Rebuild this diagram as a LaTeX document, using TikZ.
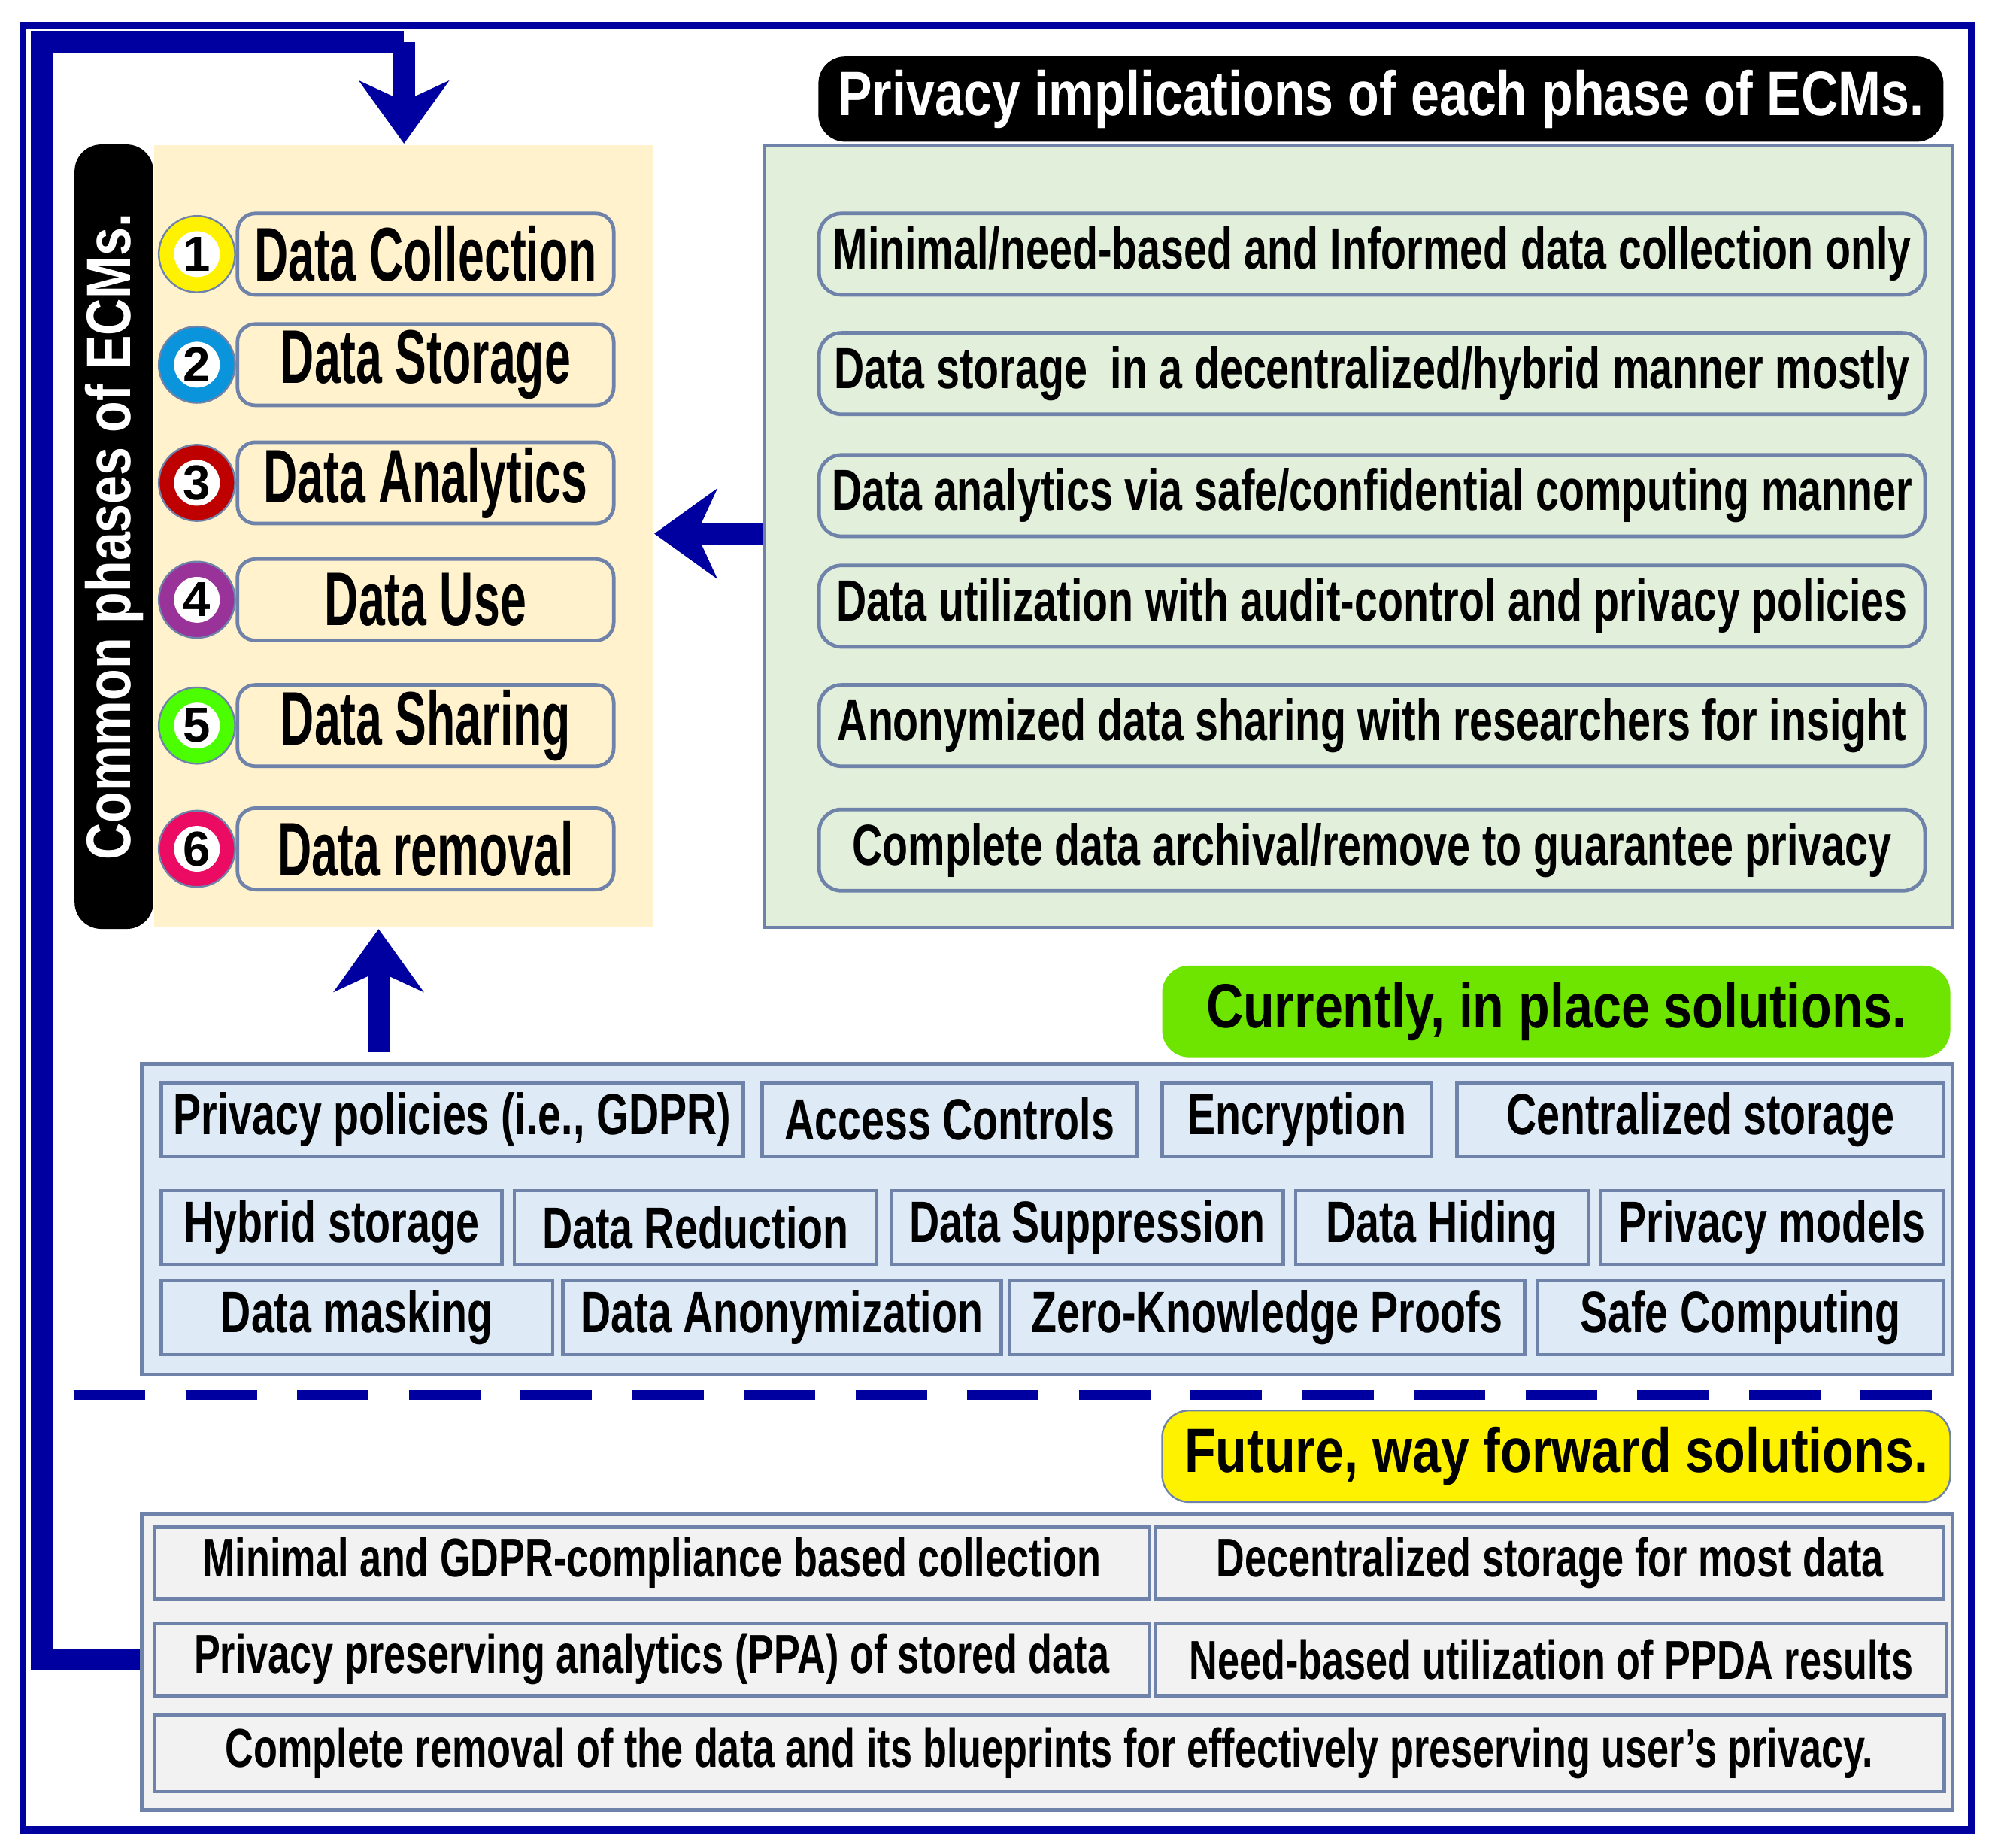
\documentclass[tikz,border=0pt]{standalone}
\usepackage{fontspec}
\setmainfont{Liberation Sans}
\newfontfamily\narrowfont{Liberation Sans}[FakeStretch=0.72]
\newfontfamily\tightfont{Liberation Sans}[FakeStretch=0.62]
\newfontfamily\semifont{Liberation Sans}[FakeStretch=0.82]
\usetikzlibrary{positioning}
\usetikzlibrary{arrows.meta}
\definecolor{navy}{RGB}{0,0,160}
\definecolor{beige}{RGB}{255,242,204}
\definecolor{lgreen}{RGB}{226,239,218}
\definecolor{lblue}{RGB}{222,235,247}
\definecolor{lgray}{RGB}{242,242,242}
\definecolor{edge}{RGB}{110,130,170}
\tikzset{
  panel/.style={draw=edge,thick,inner sep=0pt,anchor=north west},
  pbox/.style={draw=edge,thick,rounded corners=4pt,fill=beige,font=\tightfont\bfseries\fontsize{17}{20}\selectfont,inner sep=0pt},
  gbox/.style={draw=edge,thick,rounded corners=5pt,fill=lgreen,font=\narrowfont\bfseries\fontsize{13}{15}\selectfont,inner sep=0pt},
  bbox/.style={draw=edge,thick,fill=lblue,font=\narrowfont\bfseries\fontsize{13}{15}\selectfont,inner sep=0pt},
  fbox/.style={draw=edge,thick,fill=lgray,font=\narrowfont\bfseries\fontsize{12.2}{14}\selectfont,inner sep=0pt},
  tag/.style={rounded corners=6pt,font=\semifont\bfseries\fontsize{14}{16}\selectfont,inner sep=0pt},
  ring/.style={circle,draw=edge,minimum size=0.6cm,inner sep=0pt},
  num/.style={circle,fill=white,minimum size=0.36cm,inner sep=0pt,font=\bfseries\fontsize{11}{12}\selectfont},
  arr/.style={navy,line width=5pt,-{Stealth[length=14pt,width=20pt]}},
}
\begin{document}
\begin{tikzpicture}[x=0.01cm,y=-0.01cm]
  \useasboundingbox (0,0) rectangle (1568,1454);
  \draw[navy,line width=1.6pt] (18,20) rectangle (1552,1440);

  % phases of ECMs
  \node[panel,fill=beige,draw=none,minimum width=3.92cm,minimum height=6.15cm] (phase) at (120,113) {};
  \node[fill=black,rounded corners=6pt,minimum width=0.62cm,minimum height=6.17cm,anchor=north west,inner sep=0pt] (bar) at (58,113) {};
  \node[rotate=90,text=white,font=\semifont\bfseries\fontsize{14}{16}\selectfont] (bartxt) at (bar.center) {Common phases of ECMs.};

  \foreach \n/\y/\c/\t in {1/200/yellow/Data Collection, 2/287/cyan!80!blue/Data Storage, 3/380/red!75!black/Data Analytics,
      4/472/violet!80/Data Use, 5/571/green!60!lime/Data Sharing, 6/668/magenta!60!red/Data removal}{
    \node[ring,fill=\c] (r\n) at (155,\y) {};
    \node[num] (n\n) at (r\n) {\n};
    \node[pbox,minimum width=2.96cm,minimum height=0.64cm] (p\n) at (335,\y) {\t};
  }

  % privacy implications
  \node[panel,fill=lgreen,minimum width=9.35cm,minimum height=6.15cm] (impl) at (600,113) {};
  \node[tag,fill=black,text=white,minimum width=8.85cm,minimum height=0.67cm] (impltag) at (1087,78) {Privacy implications of each phase of ECMs.};
  \foreach \n/\y/\t in {1/200/{Minimal/need-based and Informed data collection only},
      2/294/{Data storage\ \ in a decentralized/hybrid manner mostly},
      3/390/{Data analytics via safe/confidential computing manner},
      4/477/{Data utilization with audit-control and privacy policies},
      5/571/{Anonymized data sharing with researchers for insight},
      6/669/{Complete data archival/remove to guarantee privacy}}{
    \node[gbox,minimum width=8.7cm,minimum height=0.64cm] (g\n) at (1080,\y) {\t};
  }
  \coordinate (ia) at (600,420);
  \draw[arr] (ia) -- (ia-|phase.east);

  % current solutions
  \node[panel,fill=lblue,minimum width=14.25cm,minimum height=2.44cm] (cur) at (110,836) {};
  \node[tag,fill=green!45!lime!80!olive,minimum width=6.2cm,minimum height=0.72cm] (curtag) at (1225,796) {Currently, in place solutions.};
  \foreach \a/\b/\t [count=\i] in {127/585/{Privacy policies (i.e., GDPR)},600/895/Access Controls,915/1127/Encryption,1147/1530/Centralized storage}{
    \pgfmathsetmacro\w{(\b-\a)/100}
    \node[bbox,minimum width=\w cm,minimum height=0.58cm] (c1\i) at ({(\a+\b)/2},881) {\t};
  }
  \foreach \a/\b/\t [count=\i] in {127/395/Hybrid storage,405/690/Data Reduction,702/1010/Data Suppression,1020/1250/Data Hiding,1260/1530/Privacy models}{
    \pgfmathsetmacro\w{(\b-\a)/100}
    \node[bbox,minimum width=\w cm,minimum height=0.58cm] (c2\i) at ({(\a+\b)/2},966) {\t};
  }
  \foreach \a/\b/\t [count=\i] in {127/435/Data masking,443/788/Data Anonymization,795/1200/Zero-Knowledge Proofs,1210/1530/Safe Computing}{
    \pgfmathsetmacro\w{(\b-\a)/100}
    \node[bbox,minimum width=\w cm,minimum height=0.58cm] (c3\i) at ({(\a+\b)/2},1037) {\t};
  }
  \coordinate (ca) at (298,828);
  \draw[arr] (ca) -- (ca|-phase.south);

  \draw[navy,line width=2.5pt,dash pattern=on 16pt off 9pt] (58,1098) coordinate (d1) -- (1535,1098) coordinate (d2);

  % future solutions
  \node[tag,fill=yellow,draw=edge,minimum width=6.2cm,minimum height=0.72cm] (futtag) at (1225,1146) {Future, way forward solutions.};
  \node[panel,fill=lgray,minimum width=14.25cm,minimum height=2.33cm] (fut) at (110,1190) {};
  \node[fbox,minimum width=7.83cm,minimum height=0.56cm] (f1) at (513,1230) {Minimal and GDPR-compliance based collection};
  \node[fbox,minimum width=6.2cm,minimum height=0.56cm] (f2) at (1220,1230) {Decentralized storage for most data};
  \node[fbox,minimum width=7.83cm,minimum height=0.57cm] (f3) at (513,1306) {Privacy preserving analytics (PPA) of stored data};
  \node[fbox,minimum width=6.22cm,minimum height=0.57cm] (f4) at (1221,1306) {Need-based utilization of PPDA results};
  \node[fbox,minimum width=14.08cm,minimum height=0.6cm] (f5) at (826,1380) {Complete removal of the data and its blueprints for effectively preserving user’s privacy.};

  % feedback loop
  \coordinate (l1) at (33,33);
  \coordinate (l2) at (318,33);
  \draw[navy,line width=5pt] (fut.west|-f3) -| (l1) -- (l2);
  \draw[arr] (l2) -- (l2|-phase.north);
\end{tikzpicture}
\end{document}
